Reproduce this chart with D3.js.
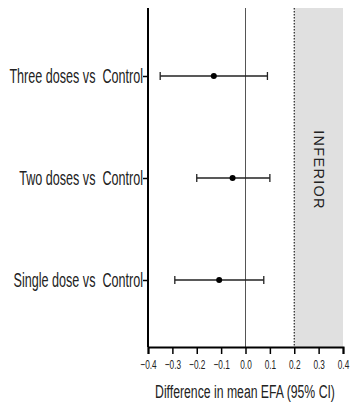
<!DOCTYPE html>
<html>
<head>
<meta charset="utf-8">
<script src="https://cdn.jsdelivr.net/npm/d3@7"></script>
<style>
  body { margin: 0; background: #fff; }
  text { font-family: "Liberation Sans", Arial, sans-serif; white-space: pre; }
</style>
</head>
<body>
<div id="chart"></div>
<script>
// comparisons, top to bottom
const categories = ["Three doses vs  Control", "Two doses vs  Control", "Single dose vs  Control"];
const estimates = [-0.13, -0.053, -0.108];
const lowerCI = [-0.35, -0.20, -0.29];
const upperCI = [0.09, 0.10, 0.075];
const xTicks = [-0.4, -0.3, -0.2, -0.1, 0.0, 0.1, 0.2, 0.3, 0.4];
const niMargin = 0.2; // non-inferiority margin

const data = categories.map((c, i) => ({ name: c, est: estimates[i], lo: lowerCI[i], hi: upperCI[i] }));

const W = 351, H = 408;
const narrow = 0.6; // fake a condensed face, none installed
const svg = d3.select("#chart").append("svg")
  .attr("width", W)
  .attr("height", H);

const x = d3.scaleLinear().domain([-0.4, 0.4]).range([148, 343]);
const y = d3.scalePoint().domain(categories).range([76, 280]);
const plotTop = 8, plotBottom = 347;

// inferior zone
svg.append("rect")
  .attr("x", x(niMargin))
  .attr("y", plotTop)
  .attr("width", x(0.4) - x(niMargin))
  .attr("height", plotBottom - plotTop)
  .attr("fill", "#e0e0e0");

svg.append("line")
  .attr("x1", x(niMargin)).attr("x2", x(niMargin))
  .attr("y1", plotTop).attr("y2", plotBottom)
  .attr("stroke", "#222")
  .attr("stroke-width", 1.2)
  .attr("stroke-dasharray", "1.5,1.5");

svg.append("text")
  .attr("transform", `translate(${x(0.3) - 5},${170}) rotate(90)`)
  .attr("text-anchor", "middle")
  .style("font-size", "14.5px")
  .style("letter-spacing", "1.3px")
  .attr("fill", "#222")
  .text("INFERIOR");

// zero line
svg.append("line")
  .attr("x1", x(0)).attr("x2", x(0))
  .attr("y1", plotTop).attr("y2", plotBottom)
  .attr("stroke", "#555")
  .attr("stroke-width", 1);

// x axis
const xAxis = svg.append("g")
  .attr("transform", `translate(0,${plotBottom})`)
  .call(d3.axisBottom(x).tickValues(xTicks).tickFormat(d3.format(".1f")).tickSizeOuter(0).tickSize(7));
xAxis.select(".domain").attr("stroke-width", 2);
xAxis.selectAll(".tick line").attr("stroke-width", 1.5);
xAxis.selectAll("text")
  .style("font-size", "12.5px")
  .attr("fill", "#222")
  .attr("y", 22)
  .attr("dy", 0)
  .attr("transform", "scale(0.66,1)");

// y axis
const yAxis = svg.append("g")
  .attr("transform", `translate(${x(-0.4)},0)`)
  .call(d3.axisLeft(y).tickSize(5).tickSizeOuter(0).tickPadding(0));
yAxis.select(".domain").attr("d", `M0,${plotTop}V${plotBottom}`).attr("stroke-width", 2);
yAxis.selectAll(".tick line").attr("stroke-width", 1.5);
yAxis.selectAll("text")
  .style("font-size", "21px")
  .attr("fill", "#222")
  .attr("x", -5 / narrow)
  .attr("transform", `scale(${narrow},1)`);

// axis title
svg.append("text")
  .attr("transform", `translate(245,398) scale(0.68,1)`)
  .attr("text-anchor", "middle")
  .style("font-size", "18px")
  .attr("fill", "#222")
  .text("Difference in mean EFA (95% CI)");

// error bars
const rows = svg.append("g").selectAll("g")
  .data(data)
  .enter()
  .append("g");

rows.append("line")
  .attr("x1", d => x(d.lo)).attr("x2", d => x(d.hi))
  .attr("y1", d => y(d.name)).attr("y2", d => y(d.name))
  .attr("stroke", "#222").attr("stroke-width", 1.3);

rows.append("line")
  .attr("x1", d => x(d.lo)).attr("x2", d => x(d.lo))
  .attr("y1", d => y(d.name) - 4).attr("y2", d => y(d.name) + 4)
  .attr("stroke", "#222").attr("stroke-width", 1.3);

rows.append("line")
  .attr("x1", d => x(d.hi)).attr("x2", d => x(d.hi))
  .attr("y1", d => y(d.name) - 4).attr("y2", d => y(d.name) + 4)
  .attr("stroke", "#222").attr("stroke-width", 1.3);

rows.append("circle")
  .attr("cx", d => x(d.est))
  .attr("cy", d => y(d.name))
  .attr("r", 3)
  .attr("fill", "#000");
</script>
</body>
</html>
